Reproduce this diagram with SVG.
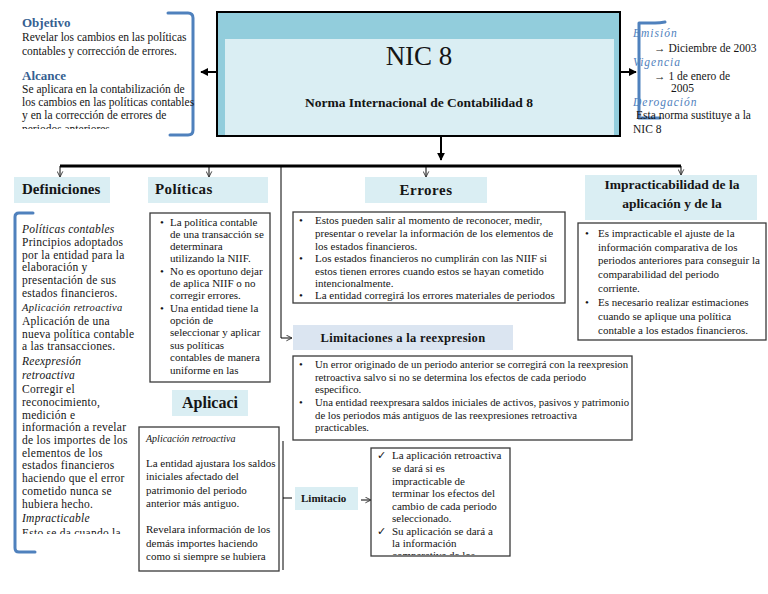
<svg xmlns="http://www.w3.org/2000/svg" width="768" height="594" viewBox="0 0 768 594">
<defs>
<style>
text{font-family:"Liberation Serif","Times New Roman",serif;fill:#151515}
.hdr{fill:#DAEEF3}
.h{font-weight:bold;text-anchor:middle}
.box{fill:#fff;stroke:#3a3a3a;stroke-width:1.3}
.br{fill:none;stroke:#4F81BD;stroke-width:3;stroke-linecap:round;stroke-linejoin:round}
.ln{fill:none;stroke:#000;stroke-width:1}
.bl{fill:#365F91;font-weight:bold;font-size:13px}
.it{font-style:italic}
.ib{fill:#4F81BD;font-style:italic;letter-spacing:1px;font-size:11.5px}
.def{font-size:11.5px;letter-spacing:0.25px}
.s115{font-size:11.5px}
.s11{font-size:11px}
.s107{font-size:10.75px}
</style>
<marker id="fa" viewBox="0 0 10 10" refX="9" refY="5" markerWidth="8" markerHeight="8" orient="auto" markerUnits="userSpaceOnUse"><path d="M0,0 L10,5 L0,10 z" fill="#000"/></marker>
<marker id="oa" viewBox="0 0 10 10" refX="9" refY="5" markerWidth="7" markerHeight="7" orient="auto" markerUnits="userSpaceOnUse"><path d="M1,1 L9,5 L1,9" fill="none" stroke="#333" stroke-width="1.3"/></marker>
<clipPath id="cTL"><rect x="0" y="0" width="200" height="129"/></clipPath>
<clipPath id="cDef"><rect x="0" y="205" width="150" height="329"/></clipPath>
<clipPath id="cLim"><rect x="371" y="448" width="140" height="107"/></clipPath>
<clipPath id="cImp"><rect x="585" y="175" width="172" height="45"/></clipPath>
</defs>

<g id="connectors">
<line x1="217" y1="72" x2="201" y2="72" stroke="#000" stroke-width="2" marker-end="url(#fa)"/>
<line x1="620" y1="72" x2="636" y2="72" stroke="#000" stroke-width="2" marker-end="url(#fa)"/>
<line x1="441" y1="136" x2="441" y2="160" stroke="#000" stroke-width="2" marker-end="url(#fa)"/>
<path d="M60,166 H681" stroke="#000" stroke-width="3" fill="none"/>
<path class="ln" d="M60,166 V177" marker-end="url(#oa)"/>
<path class="ln" d="M209,166 V177" marker-end="url(#oa)"/>
<path class="ln" d="M426,166 V177" marker-end="url(#oa)"/>
<path class="ln" d="M681,166 V175" marker-end="url(#oa)"/>
<path class="ln" d="M281,166 V338 H292" marker-end="url(#oa)"/>
<path class="ln" d="M283,441 V570 M283,498 H292"/>
<path class="ln" d="M361,500 H371" marker-end="url(#oa)"/>
</g>

<g id="nic8">
<rect x="217" y="12" width="403" height="124" fill="#92CDDC" stroke="#000" stroke-width="2"/>
<rect x="225" y="39" width="389" height="96" fill="#DAEEF3"/>
<text x="419" y="65" text-anchor="middle" font-size="27">NIC 8</text>
<text x="419" y="107" text-anchor="middle" font-size="13.5" font-weight="bold">Norma Internacional de Contabilidad 8</text>
</g>

<g id="objetivo">
<path class="br" d="M168,13 H188 Q193,13 193,18 V130 Q193,135 188,135 H170"/>
<g clip-path="url(#cTL)" class="s115">
<text x="22" y="27" class="bl">Objetivo</text>
<text x="22" y="41">Revelar los cambios en las políticas</text>
<text x="22" y="55">contables y corrección de errores.</text>
<text x="22" y="80" class="bl">Alcance</text>
<text x="22" y="93">Se aplicara en la contabilización de</text>
<text x="22" y="106">los cambios en las políticas contables</text>
<text x="22" y="119">y en la corrección de errores de</text>
<text x="22" y="133">periodos anteriores</text>
</g>
</g>

<g id="emision" class="s115">
<path class="br" d="M665,22 Q660,23 655,23 H639 V118 H660"/>
<text x="633" y="37" class="ib">Emisión</text>
<text x="654" y="52">→ Diciembre de 2003</text>
<text x="633" y="66" class="ib">Vigencia</text>
<text x="654" y="80">→  1 de enero de</text>
<text x="671" y="92">2005</text>
<text x="633" y="106" class="ib">Derogación</text>
<text x="636" y="119">Esta norma sustituye a la</text>
<text x="633" y="133">NIC 8</text>
</g>

<g id="definiciones">
<rect class="hdr" x="14" y="177" width="96" height="26"/>
<text x="22" y="194" font-size="15" font-weight="bold">Definiciones</text>
<path class="br" d="M33,213 H19 Q15,213 15,217 V548 Q15,552 19,552 H35"/>
<g clip-path="url(#cDef)" class="def">
<text x="22" y="233" class="it">Políticas contables</text>
<text x="22" y="246">Principios adoptados</text>
<text x="22" y="258.7">por la entidad para la</text>
<text x="22" y="271.4">elaboración y</text>
<text x="22" y="284.1">presentación de sus</text>
<text x="22" y="296.8">estados financieros.</text>
<text x="22" y="310.5" class="it" font-family="'DejaVu Serif',serif" font-size="10.5" letter-spacing="0.3">Aplicación retroactiva</text>
<text x="22" y="325"> Aplicación de una</text>
<text x="22" y="337.7">nueva política contable</text>
<text x="22" y="350.4">a las transacciones.</text>
<text x="22" y="365" class="it">Reexpresión</text>
<text x="22" y="379" class="it">retroactiva</text>
<text x="22" y="393">Corregir el</text>
<text x="22" y="405.8">reconocimiento,</text>
<text x="22" y="418.5">medición e</text>
<text x="22" y="431.2">información a revelar</text>
<text x="22" y="444">de los importes de los</text>
<text x="22" y="456.7">elementos de los</text>
<text x="22" y="469.4">estados financieros</text>
<text x="22" y="482.1">haciendo que el error</text>
<text x="22" y="494.8">cometido nunca se</text>
<text x="22" y="507.5">hubiera hecho.</text>
<text x="22" y="522" class="it">Impracticable</text>
<text x="22" y="537">Esto se da cuando la</text>
</g>
</g>

<g id="politicas">
<rect class="hdr" x="148" y="177" width="120" height="26"/>
<text x="155" y="194" font-size="15" font-weight="bold" letter-spacing="0.4">Políticas</text>
<rect class="box" x="150" y="213" width="120" height="169"/>
<g class="s11">
<text x="160" y="226">•</text><text x="170" y="226">La política contable</text>
<text x="170" y="238">de una transacción se</text>
<text x="170" y="250">determinara</text>
<text x="170" y="262">utilizando la NIIF.</text>
<text x="160" y="275">•</text><text x="170" y="275">No es oportuno dejar</text>
<text x="170" y="287">de aplica NIIF o no</text>
<text x="170" y="299">corregir errores.</text>
<text x="160" y="312">•</text><text x="170" y="312">Una entidad tiene la</text>
<text x="170" y="324">opción de</text>
<text x="170" y="336">seleccionar y aplicar</text>
<text x="170" y="349">sus políticas</text>
<text x="170" y="361">contables de manera</text>
<text x="170" y="374">uniforme en las</text>
</g>
</g>

<g id="errores">
<rect class="hdr" x="365" y="177" width="122" height="26"/>
<text x="426" y="195" font-size="15" class="h" letter-spacing="0.5">Errores</text>
<rect class="box" x="293" y="212" width="272" height="91"/>
<g class="s11">
<text x="299" y="224">•</text><text x="315" y="224">Estos pueden salir al momento de reconocer, medir,</text>
<text x="315" y="237">presentar o revelar la información de los elementos de</text>
<text x="315" y="250">los estados financieros.</text>
<text x="299" y="262">•</text><text x="315" y="262">Los estados financieros no cumplirán con las NIIF si</text>
<text x="315" y="275">estos tienen errores cuando estos se hayan cometido</text>
<text x="315" y="287">intencionalmente.</text>
<text x="299" y="299">•</text><text x="315" y="299">La entidad corregirá los errores materiales de periodos</text>
</g>
</g>

<g id="impracticabilidad">
<rect class="hdr" x="585" y="175" width="172" height="45"/>
<g clip-path="url(#cImp)">
<text x="672" y="189" font-size="13.5" class="h">Impracticabilidad de la</text>
<text x="672" y="208" font-size="13.5" class="h">aplicación y de la</text>
</g>
<rect class="box" x="578" y="223" width="188" height="117"/>
<g class="s11">
<text x="585" y="237">•</text><text x="598" y="237">Es impracticable el ajuste de la</text>
<text x="598" y="251">información comparativa de los</text>
<text x="598" y="264">periodos anteriores para conseguir la</text>
<text x="598" y="278">comparabilidad del periodo</text>
<text x="598" y="292">corriente.</text>
<text x="585" y="306">•</text><text x="598" y="306">Es necesario realizar estimaciones</text>
<text x="598" y="320">cuando se aplique una política</text>
<text x="598" y="334">contable a los estados financieros.</text>
</g>
</g>

<g id="limitaciones">
<rect x="293" y="325" width="220" height="25" fill="#DBE5F1"/>
<text x="403" y="342" font-size="12.5" class="h" letter-spacing="0.3">Limitaciones a la reexpresion</text>
<rect class="box" x="293" y="356" width="339" height="84"/>
<g class="s107">
<text x="299" y="368">•</text><text x="315" y="368">Un error originado de un periodo anterior se corregirá con la reexpresion</text>
<text x="315" y="381">retroactiva salvo si no se determina los efectos de cada periodo</text>
<text x="315" y="393">especifico.</text>
<text x="299" y="406">•</text><text x="315" y="406">Una entidad reexpresara saldos iniciales de activos, pasivos y patrimonio</text>
<text x="315" y="419">de los periodos más antiguos de las reexpresiones retroactiva</text>
<text x="315" y="431">practicables.</text>
</g>
</g>

<g id="aplicacion">
<rect class="hdr" x="172" y="390" width="76" height="26"/>
<text x="210" y="408" font-size="16" class="h">Aplicaci</text>
<rect class="box" x="139" y="427" width="140" height="144"/>
<g class="s11">
<text x="146" y="442" class="it" font-size="10">Aplicación retroactiva</text>
<text x="146" y="467">La entidad ajustara los saldos</text>
<text x="146" y="480">iniciales afectado del</text>
<text x="146" y="494">patrimonio del periodo</text>
<text x="146" y="507">anterior más antiguo.</text>
<text x="146" y="533">Revelara información de los</text>
<text x="146" y="547">demás importes haciendo</text>
<text x="146" y="560">como si siempre se hubiera</text>
</g>
</g>

<g id="limitacion">
<rect class="hdr" x="295" y="487" width="63" height="23"/>
<text x="301" y="502" font-size="11" font-weight="bold">Limitacio</text>
<rect class="box" x="371" y="448" width="139" height="108"/>
<g clip-path="url(#cLim)" class="s11">
<text x="377" y="459">✓</text><text x="392" y="459">La aplicación retroactiva</text>
<text x="392" y="472">se dará si es</text>
<text x="392" y="485">impracticable de</text>
<text x="392" y="497">terminar los efectos del</text>
<text x="392" y="510">cambio de cada periodo</text>
<text x="392" y="522">seleccionado.</text>
<text x="377" y="535">✓</text><text x="392" y="535">Su aplicación se dará a</text>
<text x="392" y="547">la información</text>
<text x="392" y="559">comparativa de los</text>
</g>
</g>
</svg>
